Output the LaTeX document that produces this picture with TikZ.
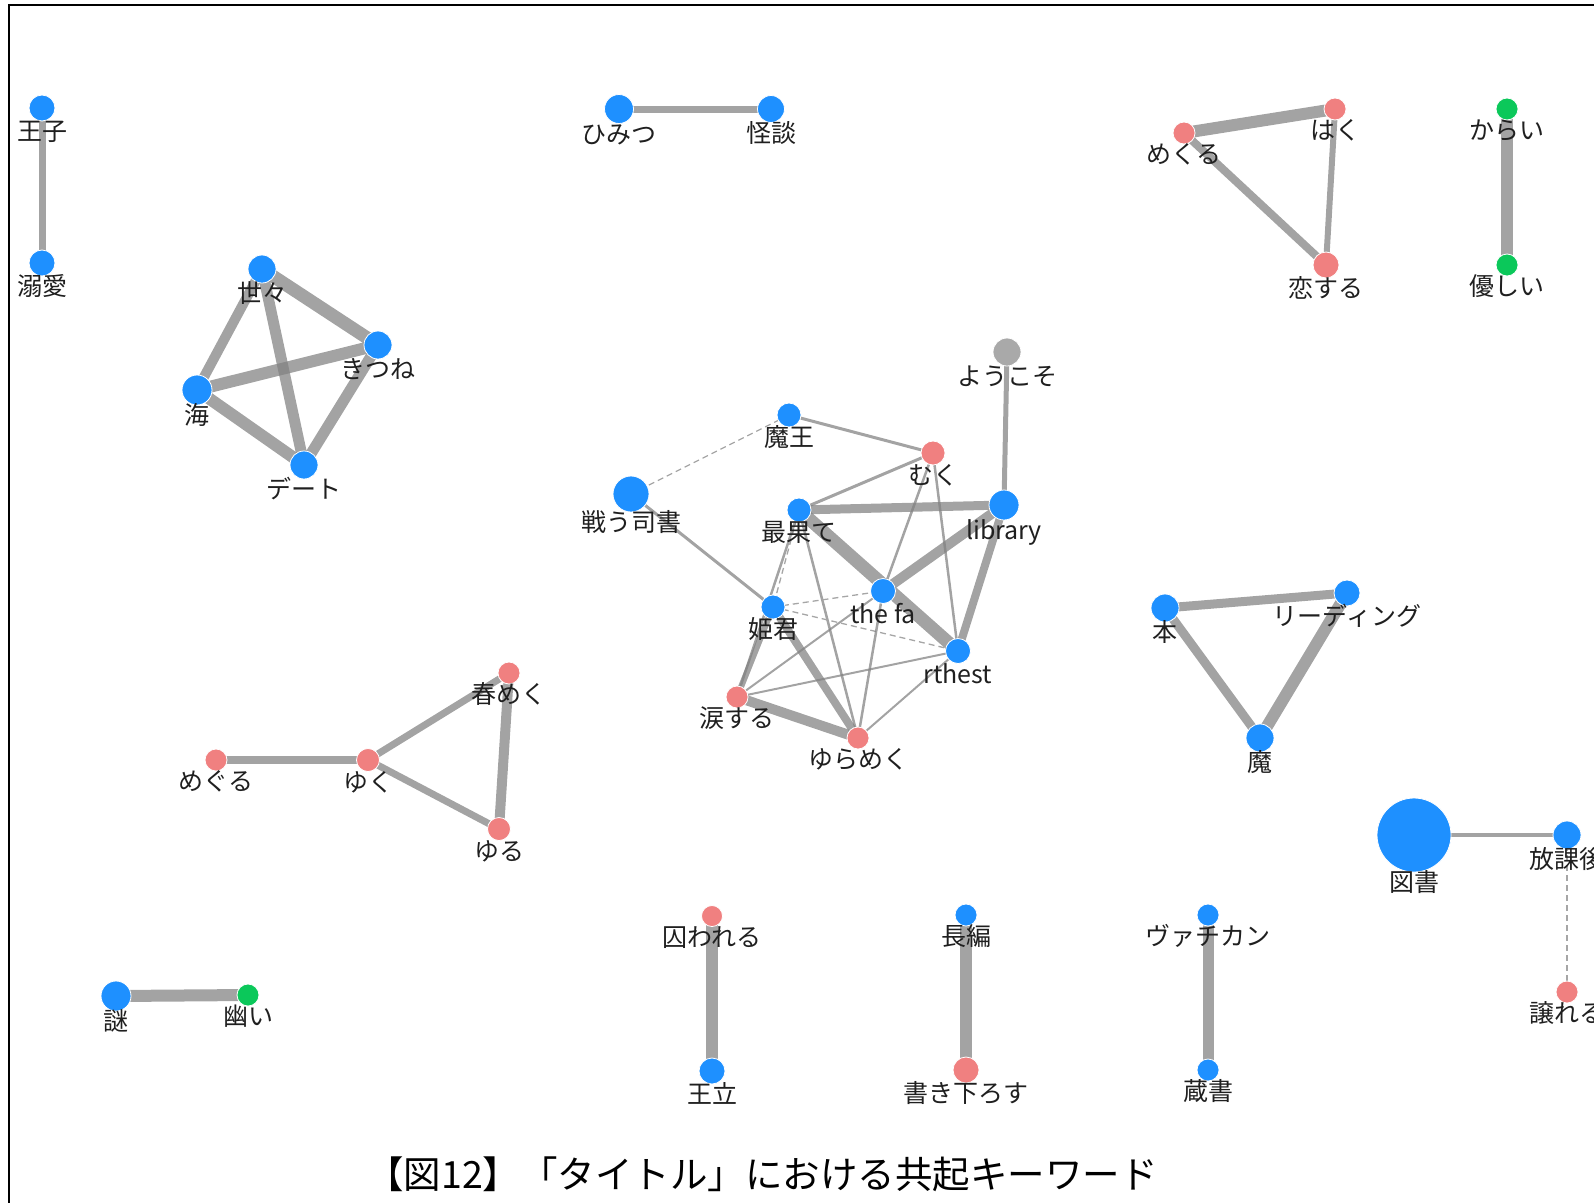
\documentclass[tikz,border=0pt]{standalone}
\usepackage{fontspec}
\setmainfont{Noto Sans CJK JP}
\usetikzlibrary{positioning}
\pgfdeclarelayer{bg}
\pgfsetlayers{bg,main}
\definecolor{kwblue}{HTML}{1E90FF}
\definecolor{kwpink}{HTML}{F08080}
\definecolor{kwgreen}{HTML}{0BC85A}
\definecolor{kwgray}{HTML}{A9A9A9}

\begin{document}
\begin{tikzpicture}[x=1pt, y=-1pt, label distance=11pt,
    kw/.style={circle, draw=white, line width=0.8pt, inner sep=0pt, minimum size=#1},
    noun/.style={kw=#1, fill=kwblue},
    verb/.style={kw=#1, fill=kwpink},
    adj/.style={kw=#1, fill=kwgreen},
    misc/.style={kw=#1, fill=kwgray},
    lbl/.style={font=\fontsize{25}{27}\selectfont, text=black!88, inner sep=0pt,
                text height=0.8em, text depth=0.15em},
    every label/.style={lbl},
    cooc/.style={line width=#1, draw=black!50, opacity=0.72},
    cweak/.style={dashed, dash pattern=on 6pt off 4pt, line width=1.3pt, draw=black!35}]
  \useasboundingbox (0,0) rectangle (1594,1202);
  \draw[line width=2pt] (9,5) rectangle (1800,1400);

  % small pairs and groups
  \node[noun=26pt, label=below:王子] (ouji) at (42,108) {};
  \node[noun=26pt, label=below:溺愛] (dekiai) at (42,263) {};
  \node[noun=29pt, label=below:ひみつ] (himitsu) at (619,109) {};
  \node[noun=27pt, label=below:怪談] (kaidan) at (771,109) {};
  \node[noun=28pt, label=below:世々] (yoyo) at (262,269) {};
  \node[noun=28pt, label=below:きつね] (kitsune) at (378,345) {};
  \node[noun=30pt, label=below:海] (umi) at (197,390) {};
  \node[noun=28pt, label=below:デート] (date) at (304,465) {};
  \node[verb=22pt, label=below:めくる] (mekuru) at (1184,133) {};
  \node[verb=22pt, label=below:はく] (haku) at (1335,109) {};
  \node[verb=26pt, label=below:恋する] (koisuru) at (1326,265) {};
  \node[adj=22pt, label=below:からい] (karai) at (1507,109) {};
  \node[adj=22pt, label=below:優しい] (yasashii) at (1507,265) {};

  % central cluster
  \node[misc=28pt, label=below:ようこそ] (youkoso) at (1007,352) {};
  \node[noun=24pt, label=below:魔王] (maou) at (789,415) {};
  \node[verb=24pt, label=below:むく] (muku) at (933,453) {};
  \node[noun=36pt, label=below:戦う司書] (tatakau) at (631,494) {};
  \node[noun=24pt, label=below:最果て] (saihate) at (799,510) {};
  \node[noun=30pt, label=below:library] (library) at (1004,505) {};
  \node[noun=25pt, label=below:the fa] (thefa) at (883,591) {};
  \node[noun=24pt, label=below:姫君] (hime) at (773,607) {};
  \node[noun=25pt, label=below:rthest] (rthest) at (958,651) {};
  \node[verb=22pt, label=below:涙する] (namida) at (737,697) {};
  \node[verb=22pt, label=below:ゆらめく] (yurameku) at (858,738) {};

  \node[noun=28pt, label=below:本] (hon) at (1165,608) {};
  \node[noun=26pt, label=below:リーディング] (reading) at (1347,593) {};
  \node[noun=28pt, label=below:魔] (ma) at (1260,738) {};
  \node[verb=22pt, label=below:春めく] (harumeku) at (509,673) {};
  \node[verb=22pt, label=below:めぐる] (meguru) at (216,760) {};
  \node[verb=23pt, label=below:ゆく] (yuku) at (368,760) {};
  \node[verb=23pt, label=below:ゆる] (yuru) at (499,829) {};
  \node[noun=74pt, label=below:図書] (tosho) at (1414,835) {};
  \node[noun=28pt, label=below:放課後] (houkago) at (1567,835) {};
  \node[verb=22pt, label=below:譲れる] (yuzureru) at (1567,992) {};
  \node[noun=30pt, label=below:謎] (nazo) at (116,996) {};
  \node[adj=22pt, label=below:幽い] (kasukai) at (248,995) {};
  \node[verb=21pt, label=below:囚われる] (torawareru) at (712,916) {};
  \node[noun=26pt, label=below:王立] (ouritsu) at (712,1071) {};
  \node[noun=22pt, label=below:長編] (chouhen) at (966,915) {};
  \node[verb=26pt, label=below:書き下ろす] (kakioroshi) at (966,1070) {};
  \node[noun=22pt, label=below:ヴァチカン] (vatican) at (1208,915) {};
  \node[noun=22pt, label=below:蔵書] (zousho) at (1208,1070) {};

  \node[font=\fontsize{37.5}{40}\selectfont] (title) at (762,1174)
    {【図12】「タイトル」における共起キーワード};

  \begin{pgfonlayer}{bg}
    \draw[cooc=7pt] (ouji.center) -- (dekiai.center);
    \draw[cooc=7pt] (himitsu.center) -- (kaidan.center);
    \draw[cooc=13pt] (yoyo.center) -- (kitsune.center);
    \draw[cooc=10pt] (yoyo.center) -- (umi.center);
    \draw[cooc=11pt] (yoyo.center) -- (date.center);
    \draw[cooc=12pt] (umi.center) -- (kitsune.center);
    \draw[cooc=12pt] (umi.center) -- (date.center);
    \draw[cooc=11pt] (kitsune.center) -- (date.center);
    \draw[cooc=12pt] (mekuru.center) -- (haku.center);
    \draw[cooc=8pt] (mekuru.center) -- (koisuru.center);
    \draw[cooc=6pt] (haku.center) -- (koisuru.center);
    \draw[cooc=12pt] (karai.center) -- (yasashii.center);

    \draw[cooc=5pt] (youkoso.center) -- (library.center);
    \draw[cweak] (tatakau.center) -- (maou.center);
    \draw[cooc=3pt] (maou.center) -- (muku.center);
    \draw[cooc=3pt] (muku.center) -- (saihate.center);
    \draw[cooc=2.5pt] (muku.center) -- (thefa.center);
    \draw[cooc=2.5pt] (muku.center) -- (rthest.center);
    \draw[cooc=9pt] (saihate.center) -- (library.center);
    \draw[cooc=13pt] (saihate.center) -- (rthest.center);
    \draw[cooc=10pt] (thefa.center) -- (library.center);
    \draw[cooc=8pt] (library.center) -- (rthest.center);
    \draw[cooc=3pt] (tatakau.center) -- (hime.center);
    \draw[cweak] (saihate.center) -- (hime.center);
    \draw[cooc=2.5pt] (saihate.center) -- (namida.center);
    \draw[cooc=2.5pt] (saihate.center) -- (yurameku.center);
    \draw[cweak] (hime.center) -- (thefa.center);
    \draw[cweak] (hime.center) -- (rthest.center);
    \draw[cooc=6pt] (hime.center) -- (namida.center);
    \draw[cooc=8pt] (hime.center) -- (yurameku.center);
    \draw[cooc=2pt] (thefa.center) -- (namida.center);
    \draw[cooc=2.5pt] (thefa.center) -- (yurameku.center);
    \draw[cooc=2pt] (rthest.center) -- (namida.center);
    \draw[cooc=2pt] (rthest.center) -- (yurameku.center);
    \draw[cooc=10pt] (namida.center) -- (yurameku.center);

    \draw[cooc=9pt] (hon.center) -- (reading.center);
    \draw[cooc=9pt] (hon.center) -- (ma.center);
    \draw[cooc=12pt] (reading.center) -- (ma.center);
    \draw[cooc=7pt] (harumeku.center) -- (yuku.center);
    \draw[cooc=10pt] (harumeku.center) -- (yuru.center);
    \draw[cooc=8pt] (meguru.center) -- (yuku.center);
    \draw[cooc=7pt] (yuku.center) -- (yuru.center);
    \draw[cooc=3.5pt] (tosho.center) -- (houkago.center);
    \draw[cweak] (houkago.center) -- (yuzureru.center);
    \draw[cooc=12pt] (nazo.center) -- (kasukai.center);
    \draw[cooc=12pt] (torawareru.center) -- (ouritsu.center);
    \draw[cooc=12pt] (chouhen.center) -- (kakioroshi.center);
    \draw[cooc=11pt] (vatican.center) -- (zousho.center);
  \end{pgfonlayer}
\end{tikzpicture}
\end{document}
